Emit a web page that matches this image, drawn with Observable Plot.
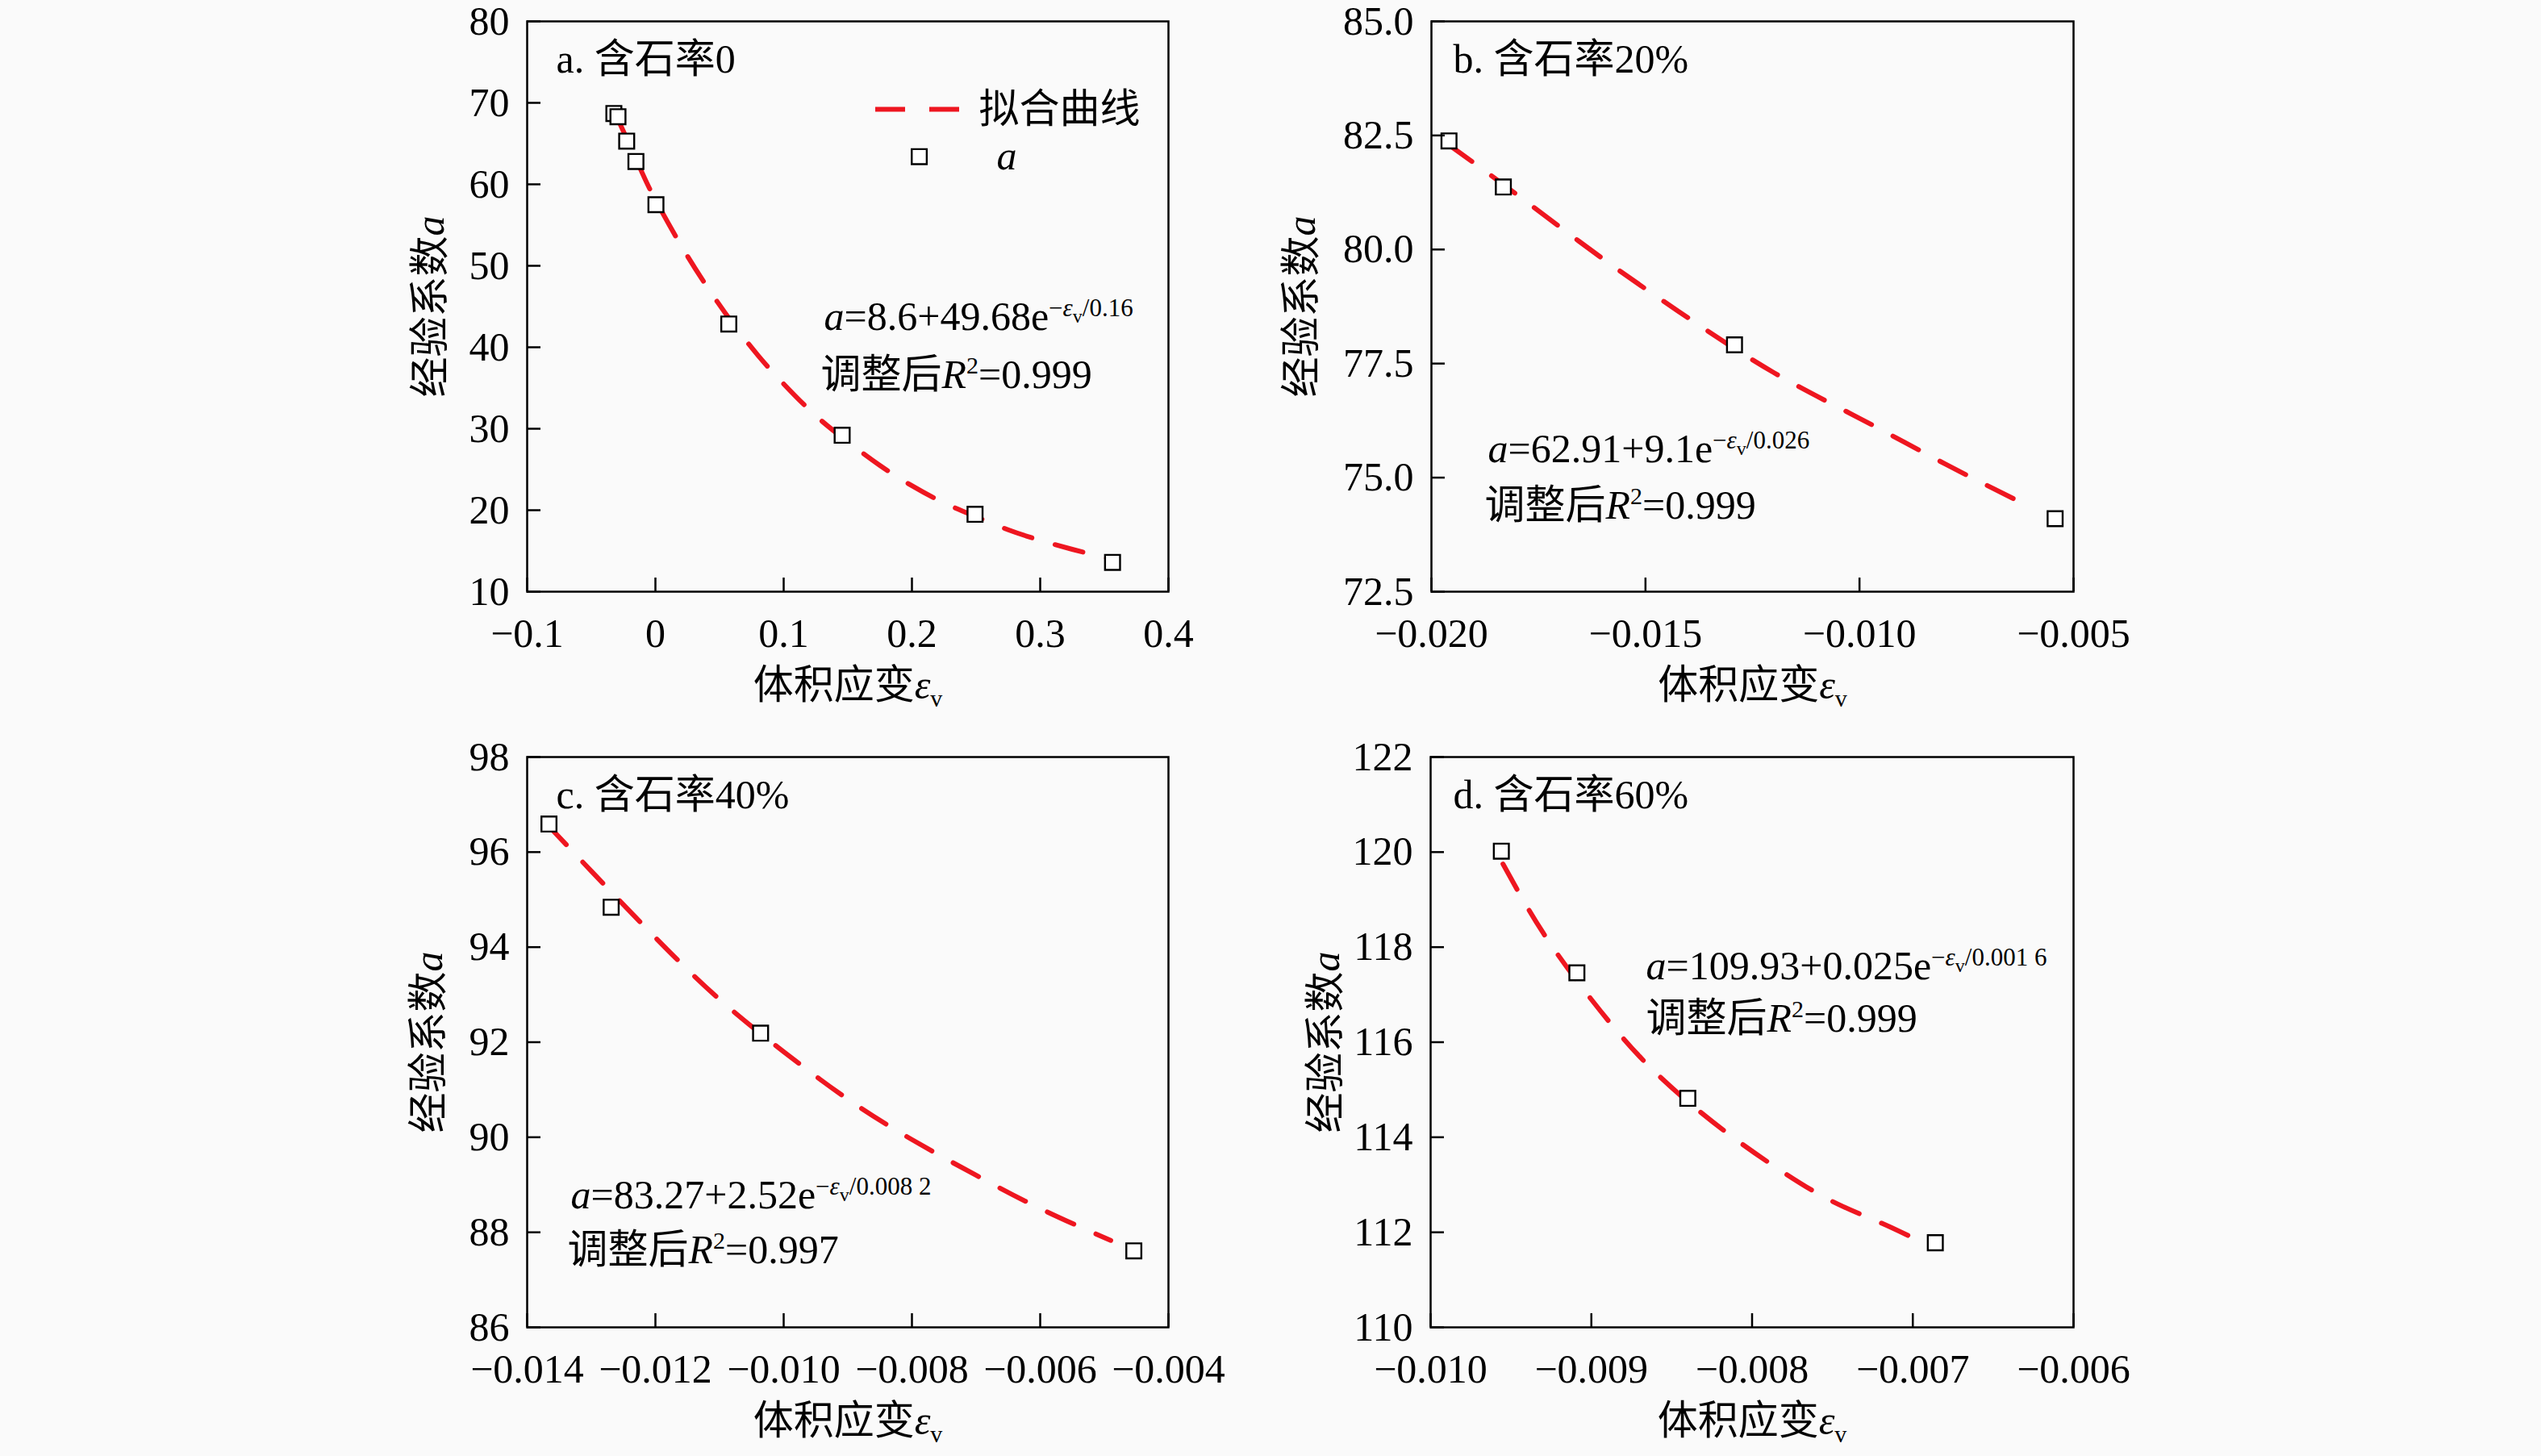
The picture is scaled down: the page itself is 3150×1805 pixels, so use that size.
<!DOCTYPE html>
<html><head><meta charset="utf-8">
<script src="https://cdn.jsdelivr.net/npm/d3@7"></script>
<script src="https://cdn.jsdelivr.net/npm/@observablehq/plot@0.6"></script>
<style>
html,body{margin:0;padding:0;background:#fafafa;}
#root{position:relative;width:3150px;height:1805px;background:#fafafa;overflow:hidden;}
#root svg{position:absolute;overflow:visible !important;background:transparent !important;
  font-family:'Liberation Serif','Noto Sans CJK SC',serif !important;}
#root svg text{font-family:'Liberation Serif','Noto Sans CJK SC',serif !important;}
</style></head><body><div id="root"></div>
<script>
// ---------- data ----------
// a. 含石率0
const strainA = [-0.0324, -0.0292, -0.0224, -0.0152, 0.0004, 0.0572, 0.1456, 0.2492, 0.3564];
const coefA   = [68.7, 68.3, 65.3, 62.8, 57.5, 42.85, 29.2, 19.5, 13.6];
const fitStrainA = [-0.031, -0.02, -0.01, 0, 0.02, 0.04, 0.06, 0.08, 0.1, 0.125, 0.15, 0.175, 0.2, 0.225, 0.25, 0.275, 0.3, 0.325, 0.355];
const fitCoefA   = [68.6, 64.8, 61.3, 58.1, 52.5, 47.5, 43.0, 39.0, 35.5, 31.6, 28.4, 25.5, 23.0, 20.9, 19.2, 17.6, 16.3, 15.2, 14.0];
// b. 含石率20%
const strainB = [-0.01959, -0.01832, -0.01292, -0.00543];
const coefB   = [82.38, 81.37, 77.91, 74.1];
const fitStrainB = [-0.0196, -0.018, -0.016, -0.014, -0.012, -0.010, -0.008, -0.006];
const fitCoefB   = [82.3, 81.2, 79.8, 78.5, 77.3, 76.3, 75.3, 74.35];
// c. 含石率40%
const strainC = [-0.01366, -0.01269, -0.01036, -0.00454];
const coefC   = [96.59, 94.84, 92.19, 87.61];
const fitStrainC = [-0.0137, -0.013, -0.012, -0.011, -0.010, -0.009, -0.008, -0.007, -0.006, -0.0049];
const fitCoefC   = [96.6, 95.6, 94.2, 92.9, 91.8, 90.8, 89.95, 89.2, 88.5, 87.83];
// d. 含石率60%
const strainD = [-0.00956, -0.00909, -0.0084, -0.00686];
const coefD   = [120.02, 117.46, 114.82, 111.78];
const fitStrainD = [-0.00955, -0.0093, -0.009, -0.0087, -0.0084, -0.0081, -0.0078, -0.0075, -0.0072, -0.00698];
const fitCoefD   = [119.75, 118.3, 116.9, 115.7, 114.75, 113.95, 113.25, 112.65, 112.2, 111.85];

// ticks
const xTicksA = [-0.1, 0, 0.1, 0.2, 0.3, 0.4];
const xLabelsA = ["−0.1", "0", "0.1", "0.2", "0.3", "0.4"];
const yTicksA = [10, 20, 30, 40, 50, 60, 70, 80];
const yLabelsA = ["10", "20", "30", "40", "50", "60", "70", "80"];
const xTicksB = [-0.020, -0.015, -0.010, -0.005];
const xLabelsB = ["−0.020", "−0.015", "−0.010", "−0.005"];
const yTicksB = [72.5, 75, 77.5, 80, 82.5, 85];
const yLabelsB = ["72.5", "75.0", "77.5", "80.0", "82.5", "85.0"];
const xTicksC = [-0.014, -0.012, -0.010, -0.008, -0.006, -0.004];
const xLabelsC = ["−0.014", "−0.012", "−0.010", "−0.008", "−0.006", "−0.004"];
const yTicksC = [86, 88, 90, 92, 94, 96, 98];
const yLabelsC = ["86", "88", "90", "92", "94", "96", "98"];
const xTicksD = [-0.010, -0.009, -0.008, -0.007, -0.006];
const xLabelsD = ["−0.010", "−0.009", "−0.008", "−0.007", "−0.006"];
const yTicksD = [110, 112, 114, 116, 118, 120, 122];
const yLabelsD = ["110", "112", "114", "116", "118", "120", "122"];

// texts
const titles = ["a. 含石率0", "b. 含石率20%", "c. 含石率40%", "d. 含石率60%"];
const eqBase = ["8.6+49.68", "62.91+9.1", "83.27+2.52", "109.93+0.025"];
const eqExp  = ["0.16", "0.026", "0.008 2", "0.001 6"];
const r2Vals = ["0.999", "0.999", "0.997", "0.999"];
const xLabel = "体积应变εv";
const yLabel = "经验系数a";
const legendNames = ["拟合曲线", "a"];

// ---------- drawing ----------
const RED = "#ee1620";
const FONT = "'Liberation Serif', 'Noto Sans CJK SC', serif";
const RICH = {};
RICH[xLabel] = '体积应变<tspan font-style="italic">ε</tspan><tspan font-size="30" dy="10">v</tspan>';
RICH[yLabel] = '经验系数<tspan font-style="italic">a</tspan>';
eqBase.forEach((b, i) => {
  RICH["a=" + b + "e−εv/" + eqExp[i]] =
    '<tspan font-style="italic">a</tspan>=' + b + 'e' +
    '<tspan font-size="31" dy="-17">−</tspan><tspan font-size="31" font-style="italic">ε</tspan>' +
    '<tspan font-size="24" dy="8">v</tspan><tspan font-size="31" dy="-8">/' + eqExp[i] + '</tspan>';
});
r2Vals.forEach(v => {
  RICH["调整后R2=" + v] = '调整后<tspan font-style="italic">R</tspan><tspan font-size="30" dy="-18">2</tspan><tspan dy="18">=' + v + '</tspan>';
});

function panel(cfg) {
  const W = 1150, H = 905;
  const [fx0, fx1, fy0, fy1] = cfg.frame;
  const mL = fx0 - cfg.left, mR = W - (fx1 - cfg.left), mT = fy0 - cfg.top, mB = H - (fy1 - cfg.top);
  const pw = fx1 - fx0, ph = fy1 - fy0;
  const pts = cfg.xs.map((x, i) => ({x, y: cfg.ys[i]}));
  const fit = cfg.fxs.map((x, i) => ({x, y: cfg.fys[i]}));
  const marks = [
    Plot.line(fit, {x: "x", y: "y", curve: "natural", stroke: RED, strokeWidth: 6, strokeDasharray: "36,30"}),
    Plot.dot(pts, {x: "x", y: "y", symbol: "square", r: 10.5, stroke: "#000", strokeWidth: 2.4, fill: "#fff"}),
    Plot.tickX(cfg.xTicks, {x: d => d, insetTop: ph - 17, stroke: "#000", strokeWidth: 2.5}),
    Plot.tickY(cfg.yTicks, {y: d => d, insetRight: pw - 17, stroke: "#000", strokeWidth: 2.5}),
    Plot.frame({stroke: "#000", strokeWidth: 2.5}),
    Plot.axisX({ticks: cfg.xTicks, tickSize: 0, tickPadding: 33, fontSize: 50,
      tickFormat: d => cfg.xLabels[cfg.xTicks.indexOf(d)], label: null}),
    Plot.axisY({ticks: cfg.yTicks, tickSize: 0, tickPadding: 22, fontSize: 50,
      tickFormat: d => cfg.yLabels[cfg.yTicks.indexOf(d)], label: null}),
    Plot.text([cfg.title], {text: d => d, frameAnchor: "top-left", dx: cfg.titleDx, dy: 47,
      textAnchor: "start", lineAnchor: "middle", fontSize: 50}),
    Plot.text([cfg.eq], {text: d => d, frameAnchor: "top-left", dx: cfg.eqPos[0], dy: cfg.eqPos[1],
      textAnchor: "start", lineAnchor: "middle", fontSize: 50}),
    Plot.text([cfg.r2], {text: d => d, frameAnchor: "top-left", dx: cfg.r2Pos[0], dy: cfg.r2Pos[1],
      textAnchor: "start", lineAnchor: "middle", fontSize: 50}),
    Plot.text([xLabel], {text: d => d, frameAnchor: "bottom", dy: 116, textAnchor: "middle", lineAnchor: "middle", fontSize: 50}),
    Plot.text([yLabel], {text: d => d, frameAnchor: "left", dx: cfg.ylabDx, rotate: -90, textAnchor: "middle", lineAnchor: "middle", fontSize: 50})
  ];
  if (cfg.legend) marks.push(...cfg.legend);
  const svg = Plot.plot({
    width: W, height: H,
    marginLeft: mL, marginRight: mR, marginTop: mT, marginBottom: mB,
    x: {domain: cfg.xDomain},
    y: {domain: cfg.yDomain},
    style: "font-family: 'Liberation Serif', 'Noto Sans CJK SC', serif; font-size: 50px; color: #000; background: transparent; overflow: visible;",
    marks
  });
  svg.setAttribute("font-family", FONT);
  svg.querySelectorAll("text").forEach(t => {
    const k = t.textContent;
    if (RICH[k]) t.innerHTML = RICH[k];
  });
  svg.style.left = cfg.left + "px";
  svg.style.top = cfg.top + "px";
  document.getElementById("root").appendChild(svg);
}

const legendA = [
  Plot.ruleY([69.2], {x1: 0.1717, x2: 0.239, stroke: RED, strokeWidth: 6, strokeDasharray: "37,30"}),
  Plot.text([legendNames[0]], {text: d => d, x: 0.2522, y: 69.2, textAnchor: "start", lineAnchor: "middle", fontSize: 50}),
  Plot.dot([0], {x: 0.2057, y: 63.4, symbol: "square", r: 10.5, stroke: "#000", strokeWidth: 2.4, fill: "#fff"}),
  Plot.text([legendNames[1]], {text: d => d, x: 0.266, y: 63.4, textAnchor: "start", lineAnchor: "middle", fontSize: 50, fontStyle: "italic"})
];

const L = 430, R = 1550, T = 0, B = 905;
panel({left: L, top: T, frame: [653, 1448, 26, 733], xDomain: [-0.1, 0.4], yDomain: [10, 80],
  xs: strainA, ys: coefA, fxs: fitStrainA, fys: fitCoefA,
  xTicks: xTicksA, xLabels: xLabelsA, yTicks: yTicksA, yLabels: yLabelsA,
  title: titles[0], titleDx: 36, eq: "a=" + eqBase[0] + "e−εv/" + eqExp[0], eqPos: [368, 366],
  r2: "调整后R2=" + r2Vals[0], r2Pos: [364, 438], ylabDx: -120, legend: legendA});
panel({left: R, top: T, frame: [1774, 2570, 26, 733], xDomain: [-0.020, -0.005], yDomain: [72.5, 85],
  xs: strainB, ys: coefB, fxs: fitStrainB, fys: fitCoefB,
  xTicks: xTicksB, xLabels: xLabelsB, yTicks: yTicksB, yLabels: yLabelsB,
  title: titles[1], titleDx: 27, eq: "a=" + eqBase[1] + "e−εv/" + eqExp[1], eqPos: [70, 530],
  r2: "调整后R2=" + r2Vals[1], r2Pos: [66, 600], ylabDx: -161});
panel({left: L, top: B, frame: [653, 1448, 938, 1645], xDomain: [-0.014, -0.004], yDomain: [86, 98],
  xs: strainC, ys: coefC, fxs: fitStrainC, fys: fitCoefC,
  xTicks: xTicksC, xLabels: xLabelsC, yTicks: yTicksC, yLabels: yLabelsC,
  title: titles[2], titleDx: 36, eq: "a=" + eqBase[2] + "e−εv/" + eqExp[2], eqPos: [54, 543],
  r2: "调整后R2=" + r2Vals[2], r2Pos: [50, 611], ylabDx: -122});
panel({left: R, top: B, frame: [1773, 2570, 938, 1645], xDomain: [-0.010, -0.006], yDomain: [110, 122],
  xs: strainD, ys: coefD, fxs: fitStrainD, fys: fitCoefD,
  xTicks: xTicksD, xLabels: xLabelsD, yTicks: yTicksD, yLabels: yLabelsD,
  title: titles[3], titleDx: 28, eq: "a=" + eqBase[3] + "e−εv/" + eqExp[3], eqPos: [267, 259],
  r2: "调整后R2=" + r2Vals[3], r2Pos: [267, 324], ylabDx: -130});
</script></body></html>
